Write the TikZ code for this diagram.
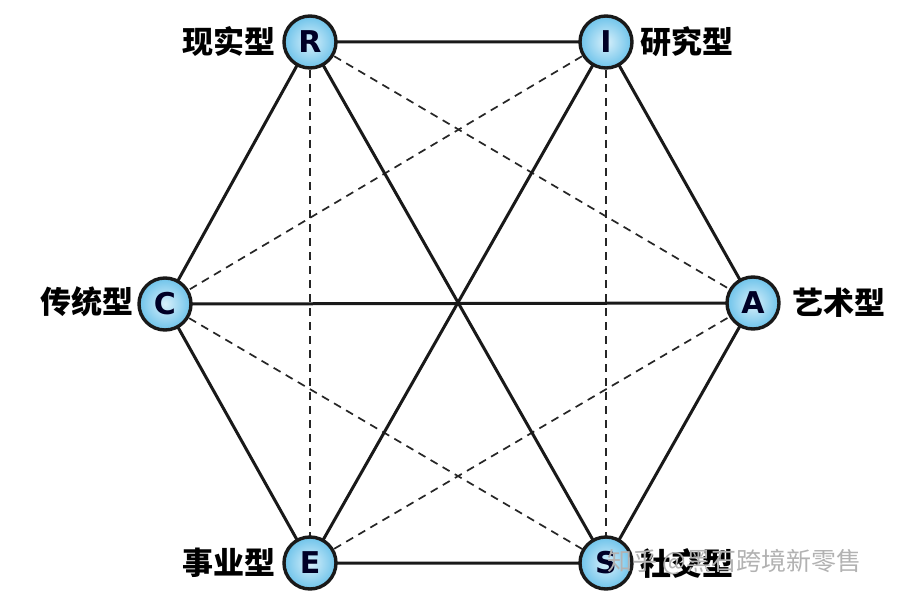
\documentclass[tikz,border=0pt]{standalone}
\usepackage{fontspec}
\newfontfamily\cjk{Noto Sans CJK SC}
\newfontfamily\lat{DejaVu Sans}
\definecolor{ballout}{HTML}{6EC3EA}
\definecolor{ballin}{HTML}{D8F0FB}
\begin{document}
\begin{tikzpicture}[x=1pt,y=-1pt,
  vert/.style={circle,minimum size=52pt,inner sep=0pt,line width=3.4pt,draw=black!90,
    inner color=ballin,outer color=ballout,
    font=\lat\bfseries\fontsize{30}{30}\selectfont,text=black!85!blue},
  lab/.style={font=\cjk\bfseries\fontsize{31}{32}\selectfont,text=black,inner sep=0pt},
  solid edge/.style={line width=3pt,black!90},
  dash edge/.style={line width=1.7pt,black!85,dash pattern=on 8pt off 6pt}]
\useasboundingbox (0,0) rectangle (905,599);
\fill[white] (0,0) rectangle (905,599);
\coordinate (r) at (310,42);
\coordinate (i) at (606,42);
\coordinate (c) at (165,304);
\coordinate (a) at (753,303);
\coordinate (e) at (310,563);
\coordinate (s) at (606,563);
% edges
\draw[dash edge] (r) -- (e);
\draw[dash edge] (i) -- (s);
\draw[dash edge] (r) -- (a);
\draw[dash edge] (i) -- (c);
\draw[dash edge] (c) -- (s);
\draw[dash edge] (e) -- (a);
\draw[solid edge] (r) -- (i) -- (a) -- (s) -- (e) -- (c) -- cycle;
\draw[solid edge] (r) -- (s);
\draw[solid edge] (i) -- (e);
\draw[solid edge] (c) -- (a);
% vertices
\node[vert] (R) at (r) {R};
\node[vert] (I) at (i) {I};
\node[vert] (C) at (c) {C};
\node[vert] (A) at (a) {A};
\node[vert] (E) at (e) {E};
\node[vert] (S) at (s) {S};
% labels
\node[lab,anchor=east] (lR) at (276,42) {现实型};
\node[lab,anchor=west] (lI) at (640,42) {研究型};
\node[lab,anchor=east] (lC) at (134,302) {传统型};
\node[lab,anchor=west] (lA) at (792,303) {艺术型};
\node[lab,anchor=east] (lE) at (276,563) {事业型};
\node[lab,anchor=west] (lS) at (640,563) {社交型};
% watermark
\node[font=\cjk\fontsize{25}{27}\selectfont,text=gray!60,anchor=west,inner sep=0pt] (wm) at (607,562) {知乎 @黑石跨境新零售};
\end{tikzpicture}
\end{document}
